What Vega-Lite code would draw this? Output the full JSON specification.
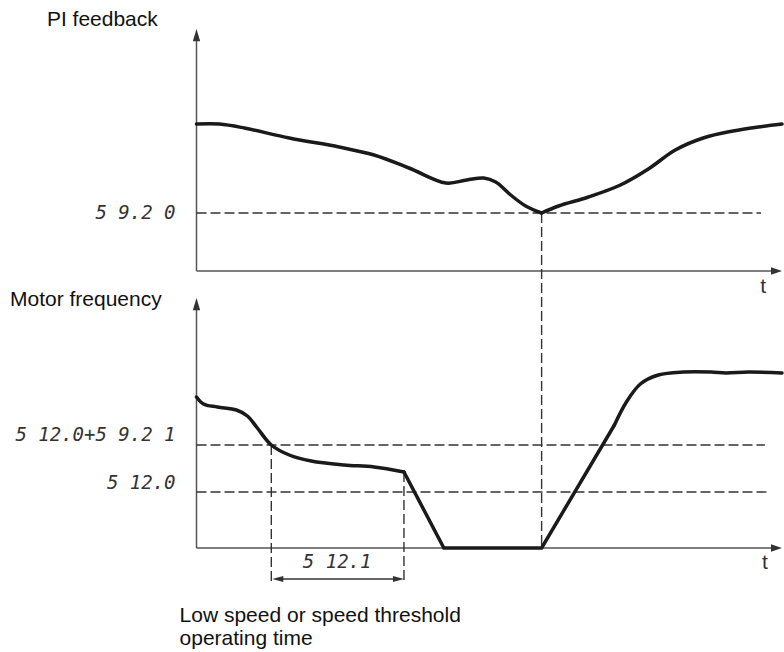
{
  "$schema": "https://vega.github.io/schema/vega-lite/v6.json",
  "width": 784,
  "height": 652,
  "autosize": {"type": "fit", "contains": "padding"},
  "padding": 0,
  "background": "white",
  "config": {"view": {"stroke": null}},
  "datasets": {
    "axes": [
      {"x": 197, "y": 40, "x2": 197, "y2": 271},
      {"x": 197, "y": 271, "x2": 773, "y2": 271},
      {"x": 197, "y": 309, "x2": 197, "y2": 548},
      {"x": 197, "y": 548, "x2": 773, "y2": 548}
    ],
    "dashes": [
      {"x": 197, "y": 213, "x2": 763, "y2": 213},
      {"x": 197, "y": 445, "x2": 767, "y2": 445},
      {"x": 197, "y": 492, "x2": 770, "y2": 492},
      {"x": 543, "y": 213, "x2": 543, "y2": 548},
      {"x": 272, "y": 445, "x2": 272, "y2": 583},
      {"x": 405, "y": 472, "x2": 405, "y2": 583}
    ],
    "dim": [
      {"x": 280, "y": 579, "x2": 398, "y2": 579}
    ],
    "upTips": [
      {"x": 197, "y": 29},
      {"x": 197, "y": 298}
    ],
    "rightTips": [
      {"x": 784, "y": 271},
      {"x": 784, "y": 548}
    ],
    "dimRight": [
      {"x": 405, "y": 579}
    ],
    "dimLeft": [
      {"x": 273, "y": 579}
    ],
    "smooth": [
      {"s": "fb1", "x": 197, "y": 124},
      {"s": "fb1", "x": 220, "y": 124},
      {"s": "fb1", "x": 245, "y": 128},
      {"s": "fb1", "x": 290, "y": 138},
      {"s": "fb1", "x": 340, "y": 147},
      {"s": "fb1", "x": 375, "y": 155},
      {"s": "fb1", "x": 410, "y": 168},
      {"s": "fb1", "x": 447, "y": 183},
      {"s": "fb1", "x": 468, "y": 180},
      {"s": "fb1", "x": 485, "y": 178},
      {"s": "fb1", "x": 497, "y": 182},
      {"s": "fb1", "x": 512, "y": 195},
      {"s": "fb1", "x": 527, "y": 206},
      {"s": "fb1", "x": 543, "y": 213},
      {"s": "fb2", "x": 543, "y": 213},
      {"s": "fb2", "x": 560, "y": 206},
      {"s": "fb2", "x": 590, "y": 197},
      {"s": "fb2", "x": 622, "y": 185},
      {"s": "fb2", "x": 650, "y": 169},
      {"s": "fb2", "x": 677, "y": 150},
      {"s": "fb2", "x": 705, "y": 138},
      {"s": "fb2", "x": 735, "y": 131},
      {"s": "fb2", "x": 760, "y": 127},
      {"s": "fb2", "x": 784, "y": 124},
      {"s": "mf1", "x": 197, "y": 397},
      {"s": "mf1", "x": 204, "y": 404},
      {"s": "mf1", "x": 218, "y": 407},
      {"s": "mf1", "x": 237, "y": 410},
      {"s": "mf1", "x": 248, "y": 416},
      {"s": "mf1", "x": 258, "y": 428},
      {"s": "mf1", "x": 272, "y": 445},
      {"s": "mf1", "x": 290, "y": 455},
      {"s": "mf1", "x": 312, "y": 461},
      {"s": "mf1", "x": 345, "y": 465},
      {"s": "mf1", "x": 375, "y": 467},
      {"s": "mf1", "x": 405, "y": 472},
      {"s": "mf3", "x": 616, "y": 425},
      {"s": "mf3", "x": 628, "y": 402},
      {"s": "mf3", "x": 642, "y": 384},
      {"s": "mf3", "x": 660, "y": 375},
      {"s": "mf3", "x": 685, "y": 372},
      {"s": "mf3", "x": 713, "y": 372},
      {"s": "mf3", "x": 728, "y": 373},
      {"s": "mf3", "x": 750, "y": 372},
      {"s": "mf3", "x": 784, "y": 373}
    ],
    "straight": [
      {"x": 405, "y": 472},
      {"x": 445, "y": 548},
      {"x": 543, "y": 548},
      {"x": 616, "y": 425}
    ],
    "labels": [
      {"x": 47, "y": 26, "label": "PI feedback"},
      {"x": 10, "y": 306, "label": "Motor frequency"},
      {"x": 180, "y": 622, "label": "Low speed or speed threshold"},
      {"x": 180, "y": 645, "label": "operating time"}
    ],
    "tees": [
      {"x": 765, "y": 293, "label": "t"},
      {"x": 767, "y": 569, "label": "t"}
    ],
    "codes": [
      {"x": 176, "y": 213, "label": "5 9.2 0"},
      {"x": 176, "y": 435, "label": "5 12.0+5 9.2 1"},
      {"x": 176, "y": 483, "label": "5 12.0"}
    ],
    "codeCenter": [
      {"x": 338, "y": 562, "label": "5 12.1"}
    ]
  },
  "encoding": {
    "x": {"field": "x", "type": "quantitative", "scale": {"domain": [0, 784], "nice": false, "zero": false}, "axis": null},
    "y": {"field": "y", "type": "quantitative", "scale": {"domain": [0, 652], "nice": false, "zero": false, "reverse": true}, "axis": null}
  },
  "layer": [
    {
      "data": {"name": "axes"},
      "mark": {"type": "rule", "color": "#555555", "strokeWidth": 1.5},
      "encoding": {"x2": {"field": "x2"}, "y2": {"field": "y2"}}
    },
    {
      "data": {"name": "dashes"},
      "mark": {"type": "rule", "color": "#333333", "strokeWidth": 1.4, "strokeDash": [10, 4]},
      "encoding": {"x2": {"field": "x2"}, "y2": {"field": "y2"}}
    },
    {
      "data": {"name": "dim"},
      "mark": {"type": "rule", "color": "#333333", "strokeWidth": 1.6},
      "encoding": {"x2": {"field": "x2"}, "y2": {"field": "y2"}}
    },
    {
      "data": {"name": "upTips"},
      "mark": {"type": "point", "shape": "M0,0L0.6,2L-0.6,2Z", "size": 150, "filled": true, "color": "#333333", "opacity": 1}
    },
    {
      "data": {"name": "rightTips"},
      "mark": {"type": "point", "shape": "M0,0L-2,-0.7L-2,0.7Z", "size": 121, "filled": true, "color": "#333333", "opacity": 1}
    },
    {
      "data": {"name": "dimRight"},
      "mark": {"type": "point", "shape": "M0,0L-2,-0.55L-2,0.55Z", "size": 121, "filled": true, "color": "#333333", "opacity": 1}
    },
    {
      "data": {"name": "dimLeft"},
      "mark": {"type": "point", "shape": "M0,0L2,-0.55L2,0.55Z", "size": 121, "filled": true, "color": "#333333", "opacity": 1}
    },
    {
      "data": {"name": "smooth"},
      "mark": {"type": "line", "interpolate": "catmull-rom", "color": "#1a1a1a", "strokeWidth": 3.5, "strokeCap": "round", "strokeJoin": "round"},
      "encoding": {"detail": {"field": "s"}}
    },
    {
      "data": {"name": "straight"},
      "mark": {"type": "line", "interpolate": "linear", "color": "#1a1a1a", "strokeWidth": 3.5, "strokeCap": "round", "strokeJoin": "miter"},
      "encoding": {}
    },
    {
      "data": {"name": "labels"},
      "mark": {"type": "text", "align": "left", "baseline": "alphabetic", "font": "Liberation Sans", "fontSize": 21, "color": "#111111"},
      "encoding": {"text": {"field": "label"}}
    },
    {
      "data": {"name": "tees"},
      "mark": {"type": "text", "align": "center", "baseline": "alphabetic", "font": "Liberation Sans", "fontSize": 21, "color": "#333333"},
      "encoding": {"text": {"field": "label"}}
    },
    {
      "data": {"name": "codes"},
      "mark": {"type": "text", "align": "right", "baseline": "middle", "font": "DejaVu Sans Mono", "fontStyle": "italic", "fontSize": 19, "color": "#333333"},
      "encoding": {"text": {"field": "label"}}
    },
    {
      "data": {"name": "codeCenter"},
      "mark": {"type": "text", "align": "center", "baseline": "middle", "font": "DejaVu Sans Mono", "fontStyle": "italic", "fontSize": 19, "color": "#333333"},
      "encoding": {"text": {"field": "label"}}
    }
  ]
}
